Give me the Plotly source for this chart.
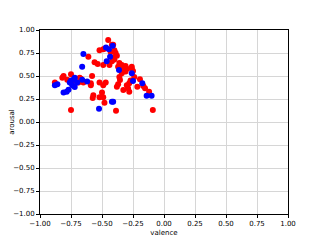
import plotly.graph_objects as go

# valence / arousal readings, two groups
red_valence = [
    -0.88, -0.81, -0.82, -0.78, -0.74, -0.75, -0.69, -0.65, -0.67, -0.68, -0.75,
    -0.61, -0.56, -0.58, -0.59, -0.59, -0.52, -0.47, -0.49, -0.57, -0.575, -0.50,
    -0.52, -0.49, -0.48, -0.535,
    -0.45, -0.52, -0.49, -0.476, -0.42, -0.41, -0.40, -0.39, -0.43, -0.41, -0.40,
    -0.42, -0.44, -0.49, -0.38, -0.36, -0.34, -0.33, -0.31, -0.30, -0.33, -0.31,
    -0.37, -0.25, -0.26, -0.26,
    -0.24, -0.36, -0.34, -0.37, -0.355, -0.38, -0.29, -0.30, -0.28, -0.328,
    -0.215, -0.194, -0.167, -0.153, -0.12, -0.09, -0.387, -0.27, -0.28,
]
red_arousal = [
    0.43, 0.50, 0.48, 0.46, 0.44, 0.52, 0.43, 0.43, 0.47, 0.48, 0.13,
    0.71, 0.65, 0.50, 0.42, 0.40, 0.43, 0.43, 0.40, 0.29, 0.26, 0.32,
    0.27, 0.27, 0.21, 0.63,
    0.89, 0.78, 0.79, 0.80, 0.84, 0.84, 0.78, 0.75, 0.76, 0.70, 0.68,
    0.66, 0.62, 0.62, 0.72, 0.64, 0.62, 0.60, 0.61, 0.58, 0.57, 0.55,
    0.60, 0.555, 0.60, 0.58,
    0.49, 0.49, 0.53, 0.41, 0.457, 0.384, 0.366, 0.40, 0.33, 0.348,
    0.384, 0.464, 0.39, 0.366, 0.33, 0.13, 0.123, 0.45, 0.42,
]

blue_valence = [
    -0.88, -0.86, -0.785, -0.81, -0.77, -0.76, -0.75, -0.73, -0.72, -0.74, -0.72,
    -0.70, -0.66, -0.62, -0.65, -0.66, -0.468, -0.444, -0.414, -0.435, -0.462,
    -0.363, -0.26, -0.25, -0.175, -0.14, -0.10, -0.42, -0.41, -0.524,
]
blue_arousal = [
    0.40, 0.41, 0.33, 0.32, 0.35, 0.43, 0.45, 0.46, 0.48, 0.40, 0.38,
    0.43, 0.46, 0.44, 0.74, 0.60, 0.81, 0.79, 0.83, 0.71, 0.66,
    0.565, 0.53, 0.446, 0.42, 0.286, 0.286, 0.22, 0.22, 0.145,
]

tick_vals = [-1.0, -0.75, -0.5, -0.25, 0.0, 0.25, 0.5, 0.75, 1.0]

fig = go.Figure()
fig.add_trace(go.Scatter(
    x=red_valence, y=red_arousal, mode="markers",
    marker=dict(color="#ff0000", size=6, line=dict(width=0)),
))
fig.add_trace(go.Scatter(
    x=blue_valence, y=blue_arousal, mode="markers",
    marker=dict(color="#0000ff", size=6, line=dict(width=0)),
))

axis_style = dict(
    range=[-1, 1], tickvals=tick_vals, tickformat=".2f", automargin=False,
    showgrid=True, gridcolor="#d6d6d6", gridwidth=1,
    zeroline=False, showline=True, linecolor="black", linewidth=1,
    mirror=True, ticks="outside", ticklen=3, tickcolor="black",
    tickfont=dict(family="DejaVu Sans", size=7, color="black"),
)
title_font = dict(family="DejaVu Sans", size=7, color="black")

# page body adds an 8px offset, so the figure is a bit smaller than 320x241
fig.update_layout(
    width=312, height=233,
    margin=dict(l=32, r=32, t=22, b=27),
    paper_bgcolor="white", plot_bgcolor="white",
    showlegend=False,
    font=dict(family="DejaVu Sans", size=7, color="black"),
    xaxis=dict(axis_style, title=dict(text="valence", standoff=2, font=title_font)),
    yaxis=dict(axis_style, title=dict(text="arousal", standoff=4, font=title_font)),
)

fig.write_html("out.html")
